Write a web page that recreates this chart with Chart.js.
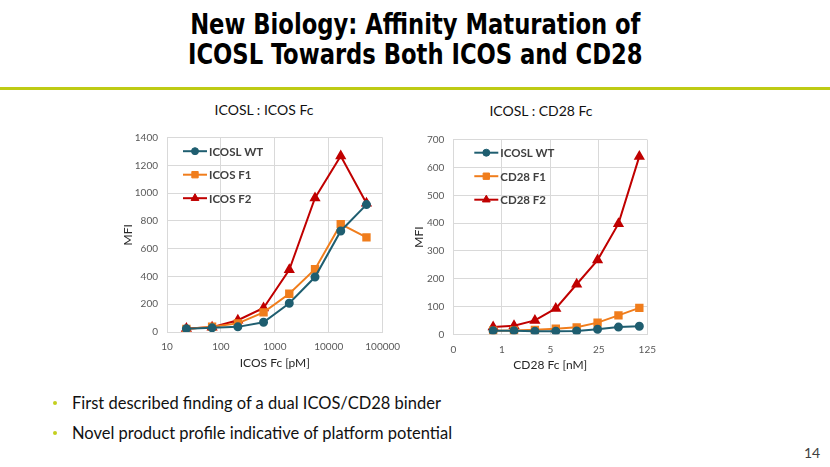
<!DOCTYPE html>
<html>
<head>
<meta charset="utf-8">
<script src="https://cdn.jsdelivr.net/npm/chart.js@4.4.1/dist/chart.umd.min.js"></script>
<style>
  body { margin: 0; width: 830px; height: 467px; background: #fff; position: relative; overflow: hidden; font-family: Lato, "Open Sans", sans-serif; }
  .title { position: absolute; left: 0; top: 10px; width: 830px; text-align: center; font-family: "DejaVu Sans Condensed", sans-serif; font-weight: bold; font-size: 28px; line-height: 30px; color: #000; transform: scaleX(0.9); transform-origin: 418px 0; }
  .rule { position: absolute; left: 0; top: 87px; width: 830px; height: 3px; background: #BECB14; }
  .sub { position: absolute; width: 200px; text-align: center; font-size: 14px; line-height: 16px; color: #111; }
  .box { position: absolute; }
  .bullets { position: absolute; left: 72px; top: 392px; font-size: 16.5px; color: #111; }
  .bullets div { position: relative; height: 30px; line-height: 22px; }
  .bullets div::before { content: ""; position: absolute; left: -19px; top: 9px; width: 4px; height: 4px; border-radius: 2px; background: #C4CF1E; }
  .page { position: absolute; left: 804px; top: 444px; font-size: 14px; color: #404040; }
</style>
</head>
<body>
<div class="title">New Biology: Affinity Maturation of<br>ICOSL Towards Both ICOS and CD28</div>
<div class="rule"></div>
<div class="sub" style="left:164px; top:102px;">ICOSL : ICOS Fc</div>
<div class="sub" style="left:441px; top:103px;">ICOSL : CD28 Fc</div>
<div class="box" style="left:100px; top:95px; width:310px; height:285px;"><canvas id="icosChart"></canvas></div>
<div class="box" style="left:400px; top:97px; width:265px; height:285px;"><canvas id="cd28Chart"></canvas></div>
<div class="bullets">
  <div>First described finding of a dual ICOS/CD28 binder</div>
  <div>Novel product profile indicative of platform potential</div>
</div>
<div class="page">14</div>
<script>
// ICOS Fc titration (pM), 3-fold steps
const icosConc = [22.9, 68.6, 206, 617, 1852, 5556, 16667, 50000];
const icosWt = [24, 30, 37, 70, 207, 396, 728, 918];
const icosF1 = [22, 38, 62, 141, 276, 453, 777, 682];
const icosF2 = [26, 35, 85, 173, 448, 966, 1268, 928];
const icosTicks = [10, 100, 1000, 10000, 100000];

// CD28 Fc titration (nM), 2-fold steps
const cd28Conc = [0.75, 1.5, 3, 6, 12, 24, 48, 96];
const cd28Wt = [13, 13, 11, 11, 12, 18, 26, 29];
const cd28F1 = [13, 14, 16, 20, 25, 42, 68, 95];
const cd28F2 = [26, 31, 50, 93, 180, 267, 398, 640];
const cd28Ticks = [0.2, 1, 5, 25, 125];
const cd28TickLabels = ['0', '1', '5', '25', '125'];

const teal = '#1F5E70', orange = '#F07D1C', red = '#C00000';
const gridColor = '#D9D9D9';
const fontFam = 'Lato, "Open Sans", sans-serif';

// legend drawn inside the plot area, like the excel one
const innerLegend = {
  id: 'innerLegend',
  afterDraw(chart, args, opts) {
    const ctx = chart.ctx;
    const a = chart.chartArea;
    ctx.save();
    ctx.font = 'bold 11.5px ' + fontFam;
    ctx.textBaseline = 'middle';
    chart.data.datasets.forEach((ds, i) => {
      const x = a.left + opts.dx;
      const y = a.top + opts.dy + i * opts.gap;
      ctx.strokeStyle = ds.borderColor;
      ctx.fillStyle = ds.borderColor;
      ctx.lineWidth = 2;
      ctx.beginPath();
      ctx.moveTo(x, y);
      ctx.lineTo(x + 24, y);
      ctx.stroke();
      ctx.lineWidth = 1;
      Chart.helpers.drawPoint(ctx, { pointStyle: ds.pointStyle, radius: ds.pointRadius, borderWidth: 1 }, x + 12, y);
      ctx.fillStyle = '#404040';
      ctx.fillText(ds.label, x + 26, y + 1);
    });
    ctx.restore();
  }
};

function series(label, xs, ys, color, style) {
  return {
    label: label,
    data: xs.map((x, i) => ({ x: x, y: ys[i] })),
    borderColor: color,
    backgroundColor: color,
    pointBackgroundColor: color,
    pointBorderColor: color,
    pointStyle: style,
    pointRadius: style === 'circle' ? 3.5 : 4.5,
    borderWidth: 2,
    tension: 0
  };
}

function makeChart(id, datasets, cfg) {
  return new Chart(document.getElementById(id), {
    type: 'line',
    data: { datasets: datasets },
    options: {
      responsive: true,
      maintainAspectRatio: false,
      animation: false,
      layout: { padding: cfg.padding },
      plugins: {
        legend: { display: false },
        tooltip: { enabled: false },
        innerLegend: cfg.legend
      },
      scales: {
        x: {
          type: 'logarithmic',
          min: cfg.xTicks[0],
          max: cfg.xTicks[cfg.xTicks.length - 1],
          afterBuildTicks: s => { s.ticks = cfg.xTicks.map(v => ({ value: v })); },
          afterFit: s => { s.height = 38; },
          grid: { color: gridColor, drawTicks: false },
          border: { color: gridColor },
          ticks: {
            color: '#595959', font: { family: fontFam, size: 10 }, padding: 9, maxRotation: 0, autoSkip: false,
            callback: v => cfg.xLabel(v)
          },
          title: { display: true, text: cfg.xTitle, color: '#262626', font: { family: fontFam, size: 12 }, padding: 0 }
        },
        y: {
          min: 0,
          max: cfg.yMax,
          afterFit: s => { s.width = cfg.yWidth; },
          grid: { color: gridColor, drawTicks: false },
          border: { color: gridColor },
          ticks: { stepSize: cfg.yStep, color: '#595959', font: { family: fontFam, size: 10 }, padding: 9, callback: v => String(v) },
          title: { display: true, text: 'MFI', color: '#262626', font: { family: fontFam, size: 12 }, padding: { top: 4, bottom: 0 } }
        }
      }
    },
    plugins: [innerLegend]
  });
}

makeChart('icosChart', [
  series('ICOSL WT', icosConc, icosWt, teal, 'circle'),
  series('ICOS F1', icosConc, icosF1, orange, 'rect'),
  series('ICOS F2', icosConc, icosF2, red, 'triangle')
], {
  padding: { left: 17, top: 42.7, right: 27.3, bottom: 10 },
  yWidth: 50,
  yMax: 1400,
  yStep: 200,
  xTicks: icosTicks,
  xLabel: v => String(v),
  xTitle: 'ICOS Fc [pM]',
  legend: { dx: 16, dy: 13.5, gap: 23.5 }
});

makeChart('cd28Chart', [
  series('ICOSL WT', cd28Conc, cd28Wt, teal, 'circle'),
  series('CD28 F1', cd28Conc, cd28F1, orange, 'rect'),
  series('CD28 F2', cd28Conc, cd28F2, red, 'triangle')
], {
  padding: { left: 8, top: 42.7, right: 17.7, bottom: 9.7 },
  yWidth: 45.3,
  yMax: 700,
  yStep: 100,
  xTicks: cd28Ticks,
  xLabel: v => cd28TickLabels[cd28Ticks.indexOf(v)],
  xTitle: 'CD28 Fc [nM]',
  legend: { dx: 21, dy: 13, gap: 23.5 }
});
</script>
</body>
</html>
